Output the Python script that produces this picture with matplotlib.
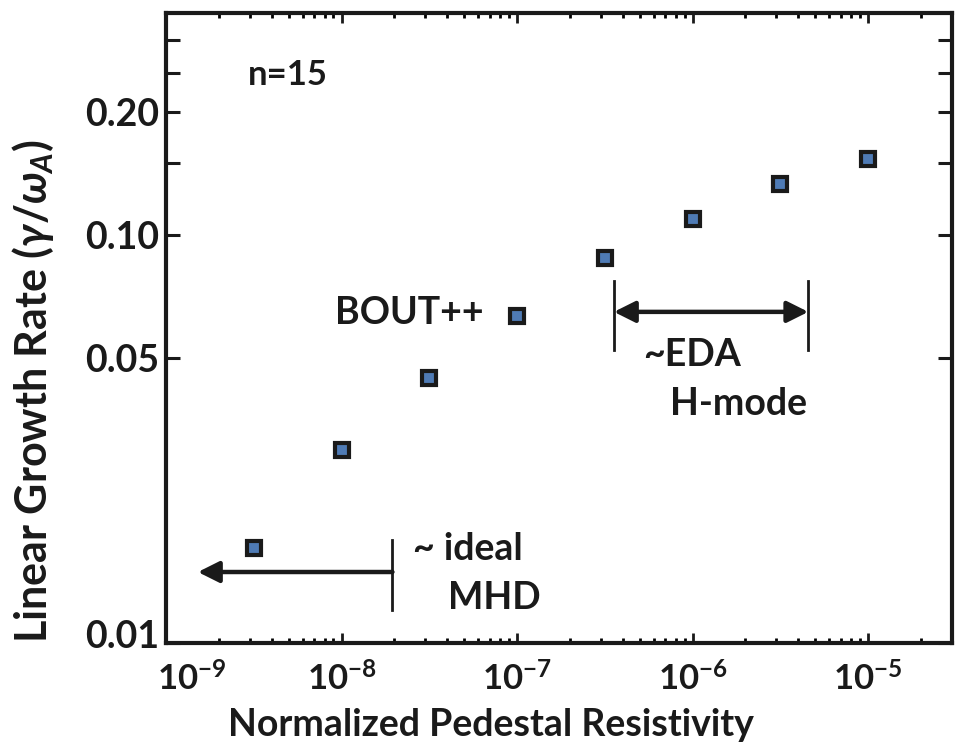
import matplotlib
matplotlib.use("Agg")
import matplotlib.pyplot as plt
import matplotlib.transforms as mtransforms
from matplotlib.ticker import FixedLocator, NullLocator, LogLocator, FixedFormatter

plt.rcParams['font.family'] = ['Lato', 'DejaVu Sans']
plt.rcParams['font.weight'] = 'bold'
plt.rcParams['mathtext.fontset'] = 'custom'
plt.rcParams['mathtext.rm'] = 'Lato:bold'
plt.rcParams['mathtext.bf'] = 'Lato:bold'
plt.rcParams['mathtext.it'] = 'Lato:bold:italic'

# data
resistivity = [3.16e-9, 1e-8, 3.16e-8, 1e-7, 3.16e-7, 1e-6, 3.16e-6, 1e-5]
growth_rate = [0.0171, 0.0297, 0.0446, 0.0634, 0.0877, 0.1094, 0.1331, 0.1536]

x_ticks = [1e-9, 1e-8, 1e-7, 1e-6, 1e-5]
x_ticklabels = [r'$\mathbf{10^{-9}}$', r'$\mathbf{10^{-8}}$', r'$\mathbf{10^{-7}}$',
                r'$\mathbf{10^{-6}}$', r'$\mathbf{10^{-5}}$']
y_ticks = [0.01, 0.05, 0.1, 0.15, 0.2, 0.25, 0.3]
y_ticklabels = ['0.01', '0.05', '0.10', '', '0.20', '', '']

# annotation ranges
eda_range = (3.56e-7, 4.56e-6)
eda_y = 0.0648
eda_bar = (0.0523, 0.0773)
mhd_x = (1.95e-8, 1.52e-9)
mhd_y = 0.01493
mhd_bar = (0.01205, 0.0179)

ink = '#1a1a1a'

fig = plt.figure(figsize=(9.61, 7.55), dpi=100)
ax = fig.add_axes([0.1727, 0.1483, 0.8179, 0.8345])
ax.set_xscale('log')
ax.set_yscale('log')
ax.set_xlim(1e-9, 3e-5)
ax.set_ylim(0.01, 0.35)

ax.plot(resistivity, growth_rate, 's', ms=10, mew=3,
        mfc='#4f7bb5', mec=ink, linestyle='none', zorder=3)

ax.xaxis.set_major_locator(FixedLocator(x_ticks))
ax.xaxis.set_major_formatter(FixedFormatter(x_ticklabels))
ax.xaxis.set_minor_locator(LogLocator(base=10, subs=range(2, 10)))
ax.yaxis.set_major_locator(FixedLocator(y_ticks))
ax.yaxis.set_major_formatter(FixedFormatter(y_ticklabels))
ax.yaxis.set_minor_locator(NullLocator())

ax.tick_params(axis='x', which='major', direction='in', length=7, width=2,
               top=True, bottom=True, labelsize=25, pad=13, colors=ink)
ax.tick_params(axis='x', which='minor', direction='in', length=3.5, width=2,
               top=True, bottom=True)
ax.tick_params(axis='y', which='major', direction='in', length=10, width=2.2,
               left=True, right=True, labelsize=27, pad=5, colors=ink)
for s in ax.spines.values():
    s.set_linewidth(3)
    s.set_color(ink)

# nudge corner labels apart like the original
fig.canvas.draw()
ax.get_xticklabels()[0].set_transform(
    ax.get_xticklabels()[0].get_transform()
    + mtransforms.ScaledTranslation(26 / 100, 0, fig.dpi_scale_trans))
ax.get_yticklabels()[0].set_transform(
    ax.get_yticklabels()[0].get_transform()
    + mtransforms.ScaledTranslation(0, 9 / 100, fig.dpi_scale_trans))

ax.set_xlabel('Normalized Pedestal Resistivity', fontsize=27,
              fontweight='bold', color=ink)
ax.xaxis.set_label_coords(0.413, -0.103)
ax.set_ylabel(r'Linear Growth Rate ($\mathit{\gamma/\omega_A}$)', fontsize=31,
              fontweight='bold', color=ink)
ax.yaxis.set_label_coords(-0.14, 0.40)

txt = dict(fontsize=27, color=ink, va='center', ha='left', fontweight='bold')
ax.text(2.94e-9, 0.2466, 'n=15', **{**txt, 'fontsize': 25})
ax.text(9.24e-9, 0.0644, 'BOUT++', **txt)
ax.text(5.25e-7, 0.0508, '~EDA', **txt)
ax.text(7.39e-7, 0.0385, 'H-mode', **txt)
ax.text(2.55e-8, 0.0170, '~ ideal', **txt)
ax.text(4.03e-8, 0.01289, 'MHD', **txt)

# EDA H-mode range
ax.annotate('', xy=(eda_range[1], eda_y), xytext=(eda_range[0], eda_y),
            arrowprops=dict(arrowstyle='<|-|>', lw=3.2, color=ink,
                            mutation_scale=32, shrinkA=0, shrinkB=0))
for xv in eda_range:
    ax.plot([xv, xv], eda_bar, color=ink, lw=2)

# ideal MHD range
ax.annotate('', xy=(mhd_x[1], mhd_y), xytext=(mhd_x[0], mhd_y),
            arrowprops=dict(arrowstyle='-|>', lw=3.2, color=ink,
                            mutation_scale=32, shrinkA=0, shrinkB=0))
ax.plot([mhd_x[0], mhd_x[0]], mhd_bar, color=ink, lw=2)

fig.savefig('out.png', dpi=100)
